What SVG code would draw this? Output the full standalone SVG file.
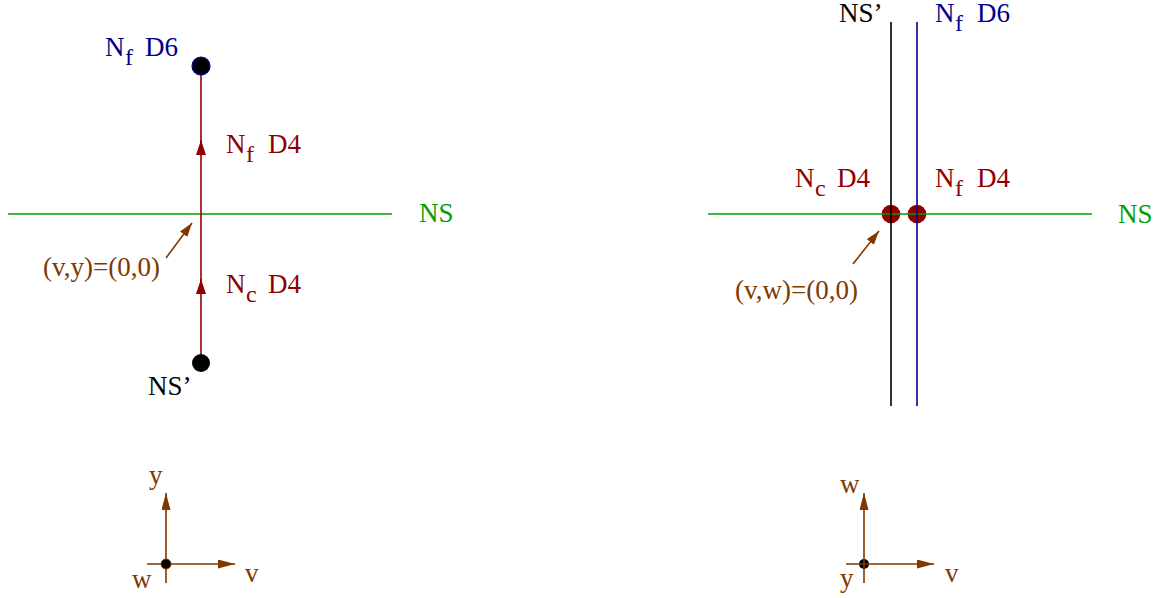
<svg xmlns="http://www.w3.org/2000/svg" width="1158" height="598" viewBox="0 0 1158 598">
<style>
text { font-family: "Liberation Serif", "Times New Roman", serif; font-size: 27px; }
.sub { font-size: 24px; }
.red { fill: #900000; }
.blue { fill: #000090; }
.green { fill: #00a000; }
.brown { fill: #803800; }
.black { fill: #000000; }
.lred { stroke: #900000; stroke-width: 1.6; fill: none; }
.lgreen { stroke: #00a000; stroke-width: 1.6; fill: none; }
.lblack { stroke: #000000; stroke-width: 1.6; fill: none; }
.lblue { stroke: #000090; stroke-width: 1.6; fill: none; }
.lbrown { stroke: #803800; stroke-width: 1.6; fill: none; }
</style>
<defs>
<marker id="arRed" markerUnits="userSpaceOnUse" markerWidth="15" markerHeight="10" refX="15" refY="5" orient="auto"><path d="M0,0 L15,5 L0,10 z" fill="#900000"/></marker>
<marker id="arBrown" markerUnits="userSpaceOnUse" markerWidth="14" markerHeight="9" refX="14" refY="4.5" orient="auto"><path d="M0,0 L14,4.5 L0,9 z" fill="#803800"/></marker>
<marker id="arAxis" markerUnits="userSpaceOnUse" markerWidth="17" markerHeight="9" refX="17" refY="4.5" orient="auto"><path d="M0,0 L17,4.5 L0,9 z" fill="#803800"/></marker>
</defs>

<g id="connectors">
  <!-- left diagram -->
  <line class="lgreen" x1="8" y1="214" x2="392" y2="214"/>
  <line class="lred" x1="201" y1="362" x2="201" y2="279" marker-end="url(#arRed)"/>
  <line class="lred" x1="201" y1="282" x2="201" y2="140" marker-end="url(#arRed)"/>
  <line class="lred" x1="201" y1="143" x2="201" y2="66"/>
  <line class="lbrown" x1="166" y1="258" x2="192" y2="223" marker-end="url(#arBrown)"/>
  <!-- left axes -->
  <line class="lbrown" x1="166" y1="583" x2="166" y2="493" marker-end="url(#arAxis)"/>
  <line class="lbrown" x1="147" y1="564" x2="235" y2="564" marker-end="url(#arAxis)"/>
  <!-- right diagram dots under lines -->
  <circle cx="891" cy="214" r="9.3" fill="#900000"/>
  <circle cx="917" cy="214" r="9.3" fill="#900000"/>
  <line class="lgreen" x1="708" y1="214" x2="1092" y2="214"/>
  <line class="lblack" x1="891" y1="22" x2="891" y2="406"/>
  <line class="lblue" x1="917" y1="22" x2="917" y2="406"/>
  <line class="lbrown" x1="853" y1="264" x2="879" y2="231" marker-end="url(#arBrown)"/>
  <!-- right axes -->
  <circle cx="864" cy="564" r="5" fill="#000"/>
  <line class="lbrown" x1="864" y1="583" x2="864" y2="493" marker-end="url(#arAxis)"/>
  <line class="lbrown" x1="846" y1="564" x2="934" y2="564" marker-end="url(#arAxis)"/>
</g>

<g id="left-top-node">
  <circle cx="201" cy="66" r="9" fill="#000" stroke="#000090" stroke-width="1.2"/>
  <text class="blue" x="105" y="56">N</text>
  <text class="blue sub" x="125" y="65">f</text>
  <text class="blue" x="145" y="56">D6</text>
</g>
<g id="left-bottom-node">
  <circle cx="201" cy="363" r="9" fill="#000"/>
  <text class="black" x="148" y="395">NS’</text>
</g>
<g id="left-labels">
  <text class="red" x="226" y="153">N</text>
  <text class="red sub" x="246" y="162">f</text>
  <text class="red" x="268" y="153">D4</text>
  <text class="red" x="226" y="293">N</text>
  <text class="red sub" x="246" y="302">c</text>
  <text class="red" x="268" y="293">D4</text>
  <text class="green" x="419" y="222">NS</text>
  <text class="brown" x="43" y="276">(v,y)=(0,0)</text>
</g>
<g id="left-axes">
  <circle cx="166" cy="564" r="5" fill="#000" stroke="#803800" stroke-width="1"/>
  <text class="brown" x="149" y="484">y</text>
  <text class="brown" x="245" y="582">v</text>
  <text class="brown" x="132" y="588">w</text>
</g>

<g id="right-labels">
  <text class="black" x="839" y="22">NS’</text>
  <text class="blue" x="935" y="22">N</text>
  <text class="blue sub" x="955" y="31">f</text>
  <text class="blue" x="977" y="22">D6</text>
  <text class="red" x="795" y="187">N</text>
  <text class="red sub" x="815" y="196">c</text>
  <text class="red" x="837" y="187">D4</text>
  <text class="red" x="935" y="187">N</text>
  <text class="red sub" x="955" y="196">f</text>
  <text class="red" x="977" y="187">D4</text>
  <text class="green" x="1118" y="223">NS</text>
  <text class="brown" x="735" y="299">(v,w)=(0,0)</text>
</g>
<g id="right-axes">
  <text class="brown" x="840" y="493">w</text>
  <text class="brown" x="945" y="582">v</text>
  <text class="brown" x="840" y="587">y</text>
</g>
</svg>
